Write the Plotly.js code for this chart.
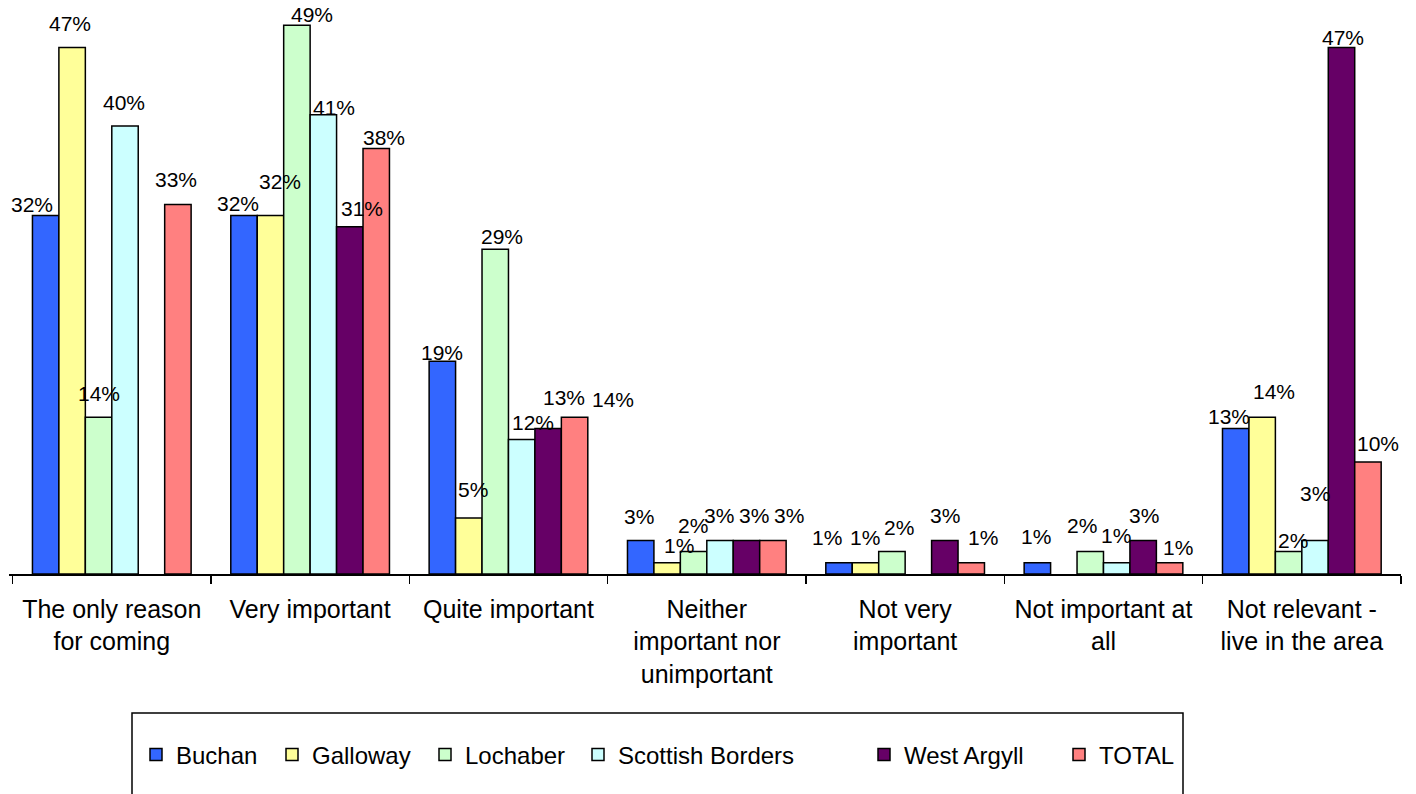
<!DOCTYPE html>
<html>
<head>
<meta charset="utf-8">
<script src="https://cdn.plot.ly/plotly-3.0.1.min.js"></script>
<style>html,body{margin:0;padding:0;background:#fff;}#chart{width:1416px;height:794px;}</style>
</head>
<body>
<div id="chart"></div>
<script>
// Categories (x-axis tick labels)
var categories = [
  "The only reason<br>for coming",
  "Very important",
  "Quite important",
  "Neither<br>important nor<br>unimportant",
  "Not very<br>important",
  "Not important at<br>all",
  "Not relevant -<br>live in the area"
];

// Series values (%); null = no bar shown
var buchan          = [32, 32, 19, 3, 1, 1, 13];
var galloway        = [47, 32, 5, 1, 1, null, 14];
var lochaber        = [14, 49, 29, 2, 2, 2, 2];
var scottishBorders = [40, 41, 12, 3, null, 1, 3];
var westArgyll      = [null, 31, 13, 3, 3, 3, 47];
var total           = [33, 38, 14, 3, 1, 1, 10];

var seriesNames = ["Buchan", "Galloway", "Lochaber", "Scottish Borders", "West Argyll", "TOTAL"];
var seriesData = [buchan, galloway, lochaber, scottishBorders, westArgyll, total];

// ---- styles (not data) ----
var seriesColors = ["#3366FF", "#FFFF99", "#CCFFCC", "#CCFFFF", "#660066", "#FF8080"];
// data-label nudges in px (horizontal from bar centre, vertical above bar top), as placed in the original
var labelDx = [
  [-13.5, -6.3, 0, -2, -11.6, -1, -6.4],
  [-1.6, 9.3, 4, 12.3, -0.5, 0, 11.6],
  [0, 14.7, 6.5, -0.6, 6.7, -8.4, 4],
  [-1, 10.3, 11.4, -1.2, 0, -0.9, 0],
  [0, 11.7, 15.7, 7.9, 0, 0.3, 1.7],
  [-2, 7.3, 38.5, 15.8, 11.4, 8.5, 9.4]
];
var labelDy = [
  [11, 11.9, 8.7, 23.7, 25.8, 26.6, 11.5],
  [23.9, 34.4, 28.5, 17, 25.8, 0, 26],
  [23.5, 10.4, 12.7, 25.8, 24.1, 26.3, 11],
  [24, 7, 17.6, 24.6, 0, 27.5, 47],
  [0, 18.5, 30.6, 24.6, 24.6, 25.4, 10.6],
  [25.2, 10.9, 17.7, 24.6, 25.8, 15.6, 18.6]
];
// legend entry left edges (px) of the colour squares
var legendSquareLeft = [150, 286, 439, 592, 878, 1073];

var FONT = "Arial, 'Liberation Sans', sans-serif";

// plot area geometry helpers (paper coords)
var L = 9, R = 15, T = 14, B = 220, W = 1416, H = 794;
var pw = W - L - R, ph = H - T - B;
function px2x(px) { return (px - L) / pw; }
function py2y(py) { return (H - B - py) / ph; }
var BARGAP = 0.2;
var barW = pw / categories.length * (1 - BARGAP) / seriesNames.length;

var traces = seriesNames.map(function(name, i) {
  return {
    type: "bar",
    name: name,
    x: categories,
    y: seriesData[i],
    legend: i === 0 ? "legend" : "legend" + (i + 1),
    marker: { color: seriesColors[i], line: { color: "#000", width: 1.5 } },
    hoverinfo: "skip"
  };
});

var annotations = [];
seriesData.forEach(function(vals, i) {
  vals.forEach(function(v, j) {
    if (v === null) return;
    annotations.push({
      x: categories[j], xref: "x",
      y: v, yref: "y",
      text: v + "%",
      showarrow: false,
      xanchor: "center", yanchor: "middle",
      xshift: (i - (seriesNames.length - 1) / 2) * barW + labelDx[i][j],
      yshift: labelDy[i][j],
      font: { family: FONT, size: 21, color: "#000" }
    });
  });
});

var layout = {
  width: W, height: H,
  margin: { l: L, r: R, t: T, b: B },
  paper_bgcolor: "#fff",
  plot_bgcolor: "#fff",
  barmode: "group",
  bargap: BARGAP,
  bargroupgap: 0,
  font: { family: FONT, color: "#000" },
  showlegend: true,
  xaxis: {
    type: "category",
    showline: true, linecolor: "#000", linewidth: 1.5,
    ticks: "outside", tickson: "boundaries", ticklen: 8, tickcolor: "#000", tickwidth: 1.5,
    ticklabelstandoff: 12,
    tickfont: { family: FONT, size: 25, color: "#000" },
    showgrid: false, zeroline: false, fixedrange: true
  },
  yaxis: {
    range: [0, 50],
    visible: false,
    showgrid: false, zeroline: false, fixedrange: true
  },
  annotations: annotations,
  shapes: [{
    type: "rect", xref: "paper", yref: "paper",
    x0: px2x(132), x1: px2x(1183), y0: py2y(713), y1: py2y(810),
    line: { color: "#000", width: 1.5 }, fillcolor: "rgba(0,0,0,0)"
  }]
};

legendSquareLeft.forEach(function(sx, i) {
  var key = i === 0 ? "legend" : "legend" + (i + 1);
  layout[key] = {
    orientation: "h",
    x: px2x(sx - 14), xanchor: "left",
    y: py2y(755), yanchor: "middle",
    font: { family: FONT, size: 24, color: "#000" },
    bgcolor: "rgba(0,0,0,0)",
    borderwidth: 0
  };
});

Plotly.newPlot("chart", traces, layout, { displayModeBar: false, staticPlot: true });
</script>
</body>
</html>
